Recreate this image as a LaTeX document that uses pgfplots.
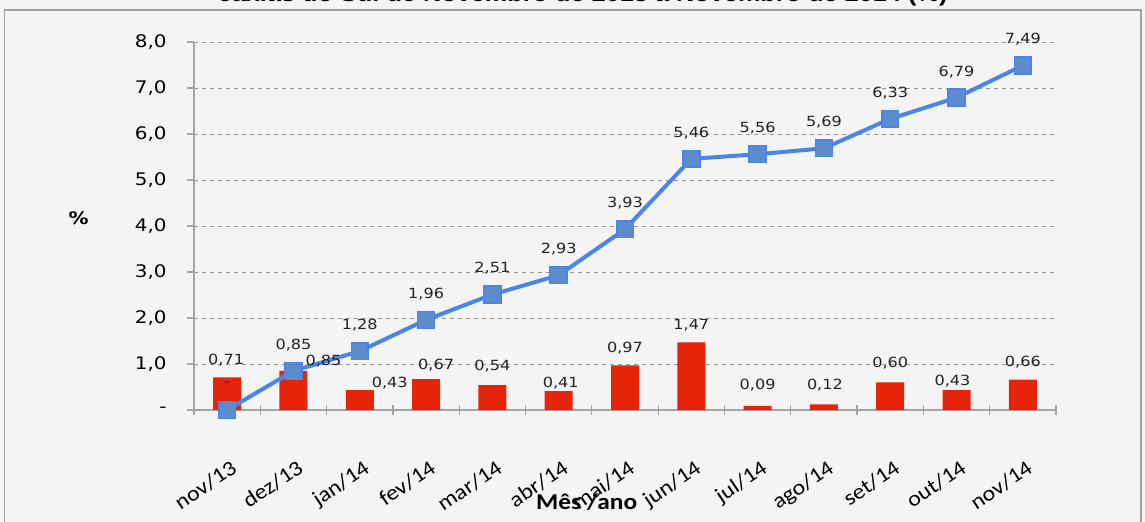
\documentclass[border=0pt]{standalone}
\usepackage{fontspec}
\usepackage{pgfplots}
\pgfplotsset{compat=1.18}
\usepackage{pgfplotstable}
\setmainfont{DejaVu Sans}[FakeStretch=1.15]
\newfontfamily\carl{Carlito}[FakeStretch=1.12]
\newfontfamily\titlef{Liberation Sans}[FakeStretch=1.15]
\definecolor{bgc}{RGB}{244,244,244}
\definecolor{framec}{RGB}{160,160,160}
\definecolor{axisc}{RGB}{165,165,165}
\definecolor{barred}{RGB}{230,36,10}
\definecolor{lineblue}{RGB}{74,134,232}
\definecolor{markfill}{RGB}{92,140,205}
\definecolor{labc}{RGB}{35,35,35}

\pgfplotstableread{
x bar blab dx dy
0 0.71 0,71 -1 17
1 0.85 0,85 30 10
2 0.43 0,43 30 7
3 0.67 0,67 10 14
4 0.54 0,54 0 19
5 0.41 0,41 2 8
6 0.97 0,97 0 17
7 1.47 1,47 0 17
8 0.09 0,09 0 21
9 0.12 0,12 1 19
10 0.60 0,60 0 19
11 0.43 0,43 -4 9
12 0.66 0,66 0 18
}\bardata

\pgfplotstableread{
x line llab
0 0.00 -
1 0.85 0,85
2 1.28 1,28
3 1.96 1,96
4 2.51 2,51
5 2.93 2,93
6 3.93 3,93
7 5.46 5,46
8 5.56 5,56
9 5.69 5,69
10 6.33 6,33
11 6.79 6,79
12 7.49 7,49
}\linedata

\begin{document}
\begin{tikzpicture}
\useasboundingbox (0,0) rectangle (858.75pt,390.75pt);
\fill[bgc] (0,0) rectangle (858.75pt,390.75pt);
\draw[framec, line width=1pt, fill=bgc] (3.5pt,-5pt) rectangle (855.75pt,383.25pt);
\node[anchor=base] at (437pt,389.5pt) {\titlef\bfseries\fontsize{16.5}{16.5}\selectfont caxias do Sul de Novembro de 2013 a Novembro de 2014 (\%)};
\begin{axis}[
  at={(145.5pt,83.25pt)}, anchor=south west,
  scale only axis, width=646.5pt, height=276pt,
  xmin=-0.5, xmax=12.5, ymin=0, ymax=8,
  axis lines=left,
  axis line style={-, draw=axisc, line width=1.2pt},
  xtick={0,...,12},
  xticklabels={nov/13,dez/13,jan/14,fev/14,mar/14,abr/14,mai/14,jun/14,jul/14,ago/14,set/14,out/14,nov/14},
  major x tick style={draw=none},
  minor xtick={-0.5,0.5,...,12.5},
  minor x tick style={draw=axisc, line width=0.9pt},
  minor tick length=7pt,
  xtick align=center,
  ytick={0,...,8},
  yticklabels={-,{1,0},{2,0},{3,0},{4,0},{5,0},{6,0},{7,0},{8,0}},
  ytick align=outside,
  major y tick style={draw=axisc, line width=0.9pt},
  major tick length=5pt,
  ymajorgrids,
  grid style={dashed, draw=gray!85, line width=0.6pt},
  /pgf/number format/assume math mode=true,
  yticklabel style={font=\fontsize{13}{13}\selectfont, text=black, xshift=-12pt},
  xticklabel style={font=\carl\fontsize{16}{16}\selectfont, text=black, rotate=34, anchor=north east, xshift=-14pt, yshift=-26pt},
  clip=false,
]
\addplot[ybar, bar width=21pt, bar shift=0pt, fill=barred, draw=none,
  point meta=explicit symbolic,
  visualization depends on={\thisrow{dx} \as \dx},
  visualization depends on={\thisrow{dy} \as \dy},
  nodes near coords,
  nodes near coords style={anchor=center, text=labc, font=\fontsize{10.5}{10.5}\selectfont, xshift={\dx*0.75pt}, yshift={\dy*0.75pt}},
] table[x=x, y=bar, meta=blab] {\bardata};
\addplot[sharp plot, draw=lineblue, line width=3pt, mark=square*, mark size=6.3pt,
  mark options={fill=markfill, draw=lineblue, line width=1.2pt},
  point meta=explicit symbolic,
  nodes near coords,
  nodes near coords style={anchor=center, text=labc, font=\fontsize{10.5}{10.5}\selectfont, yshift=19.5pt},
] table[x=x, y=line, meta=llab] {\linedata};
\end{axis}
\node[font=\bfseries\fontsize{13}{13}\selectfont] at (59pt,227.25pt) {\%};
\node[font=\carl\bfseries\fontsize{17}{17}\selectfont] at (440pt,14.25pt) {Mês /ano};
\end{tikzpicture}
\end{document}
